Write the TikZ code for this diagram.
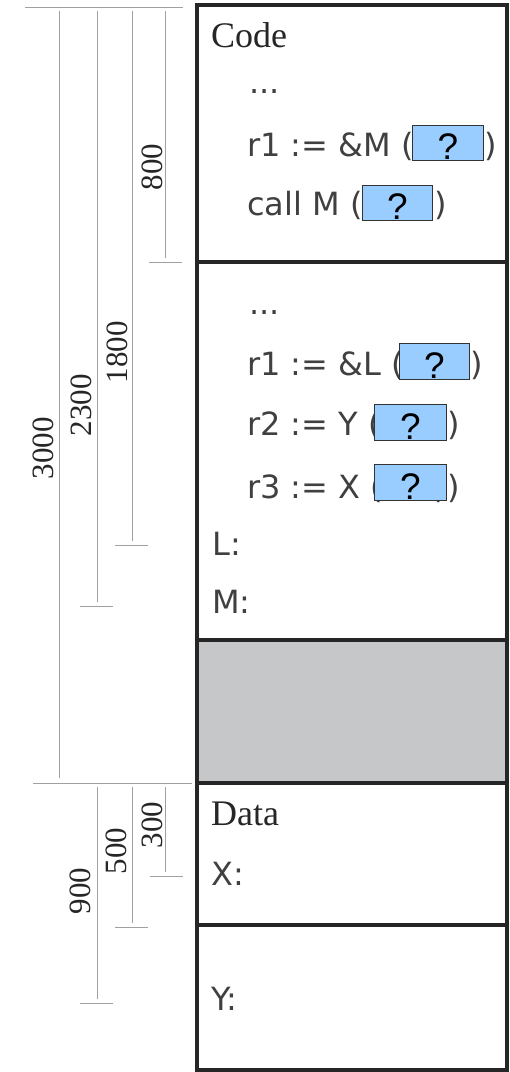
\documentclass[tikz,border=0pt]{standalone}
\usepackage{fontspec}
\usetikzlibrary{calc}
\setmainfont{Liberation Serif}
\newfontfamily\codefont{DejaVu Sans}
\newfontfamily\qfont{Liberation Sans}
\definecolor{qblue}{HTML}{99CCFF}
\definecolor{grayblock}{HTML}{C6C7C9}
\definecolor{dimgray}{HTML}{A0A0A0}
\begin{document}
\begin{tikzpicture}[x=1pt,y=-1pt,
  dimline/.style={draw=dimgray, line width=1pt},
  dimlabel/.style={rotate=90, anchor=base, inner sep=0pt, font=\fontsize{31}{36}\selectfont, text=black!85},
  codetext/.style={anchor=base west, inner sep=0pt, font=\codefont\fontsize{32}{40}\selectfont, text=black!75},
  closetext/.style={anchor=base east, inner sep=0pt, font=\codefont\fontsize{32}{40}\selectfont, text=black!75},
  headtext/.style={anchor=base west, inner sep=0pt, font=\fontsize{36}{40}\selectfont, text=black!85},
  qbox/.style={draw=black!80, fill=qblue, line width=0.8pt, anchor=north west, inner sep=0pt},
  qmark/.style={anchor=base, inner sep=0pt, font=\qfont\fontsize{37}{40}\selectfont, text=black},
  frameline/.style={draw=black!85, line width=4pt}]
\useasboundingbox (0,0) rectangle (510,1072);
% grey block
\fill[grayblock] (197,640) rectangle (507,783);
% frame
\draw[frameline] (197,5) rectangle (507,1070);
\draw[frameline] (197,262) -- (507,262);
\draw[frameline] (197,640) -- (507,640);
\draw[frameline] (197,783) -- (507,783);
\draw[frameline] (197,925) -- (507,925);
% dimension lines (upper)
\draw[dimline] (25,7) -- (183,7);
\draw[dimline] (165,11) -- (165,258);
\draw[dimline] (149,262) -- (182,262);
\draw[dimline] (132,11) -- (132,541);
\draw[dimline] (115,545) -- (148,545);
\draw[dimline] (97,11) -- (97,602);
\draw[dimline] (80,606) -- (113,606);
\draw[dimline] (59,11) -- (59,778);
% dimension lines (lower)
\draw[dimline] (33,783) -- (192,783);
\draw[dimline] (165,787) -- (165,872);
\draw[dimline] (150,876) -- (183,876);
\draw[dimline] (132,787) -- (132,923);
\draw[dimline] (115,927) -- (148,927);
\draw[dimline] (97,787) -- (97,999);
\draw[dimline] (80,1003) -- (113,1003);
% dimension labels
\node[dimlabel] (d800) at (162,167) {800};
\node[dimlabel] (d1800) at (127,352) {1800};
\node[dimlabel] (d2300) at (91,405) {2300};
\node[dimlabel] (d3000) at (53,448) {3000};
\node[dimlabel] (d300) at (162,825) {300};
\node[dimlabel] (d500) at (126,851) {500};
\node[dimlabel] (d900) at (90,891) {900};
% code block
\node[headtext] (code) at (211,47) {Code};
\node[codetext] (dots1) at (249,93) {...};
\node[codetext] (l1) at (247,156) {r1 := \&M (};
\node[closetext] (l1c) at (497,156) {))};
\node[qbox, minimum width=71pt, minimum height=35pt] (q1) at (412,125) {};
\node[qmark] (q1m) at ($(q1.south)+(0,-1)$) {?};
\node[codetext] (l2) at (247,215) {call M (};
\node[closetext] (l2c) at (447,215) {))};
\node[qbox, minimum width=70pt, minimum height=35pt] (q2) at (362,185) {};
\node[qmark] (q2m) at ($(q2.south)+(0,-1)$) {?};
% second block
\node[codetext] (dots2) at (249,314) {...};
\node[codetext] (l3) at (247,375) {r1 := \&L (};
\node[closetext] (l3c) at (483,375) {))};
\node[qbox, minimum width=70pt, minimum height=36pt] (q3) at (399,343) {};
\node[qmark] (q3m) at ($(q3.south)+(0,-1)$) {?};
\node[codetext] (l4) at (247,435) {r2 := Y (};
\node[closetext] (l4c) at (460,435) {))};
\node[qbox, minimum width=72pt, minimum height=36pt] (q4) at (374,404) {};
\node[qmark] (q4m) at ($(q4.south)+(0,-1)$) {?};
\node[codetext] (l5) at (247,498) {r3 := X (};
\node[closetext] (l5c) at (460,498) {))};
\node[qbox, minimum width=72pt, minimum height=36pt] (q5) at (374,464) {};
\node[qmark] (q5m) at ($(q5.south)+(0,-1)$) {?};
\node[codetext] (lL) at (212,555) {L:};
\node[codetext] (lM) at (212,613) {M:};
% data block
\node[headtext] (data) at (211,825) {Data};
\node[codetext] (lX) at (211,885) {X:};
\node[codetext] (lY) at (211,1010) {Y:};
\end{tikzpicture}
\end{document}
